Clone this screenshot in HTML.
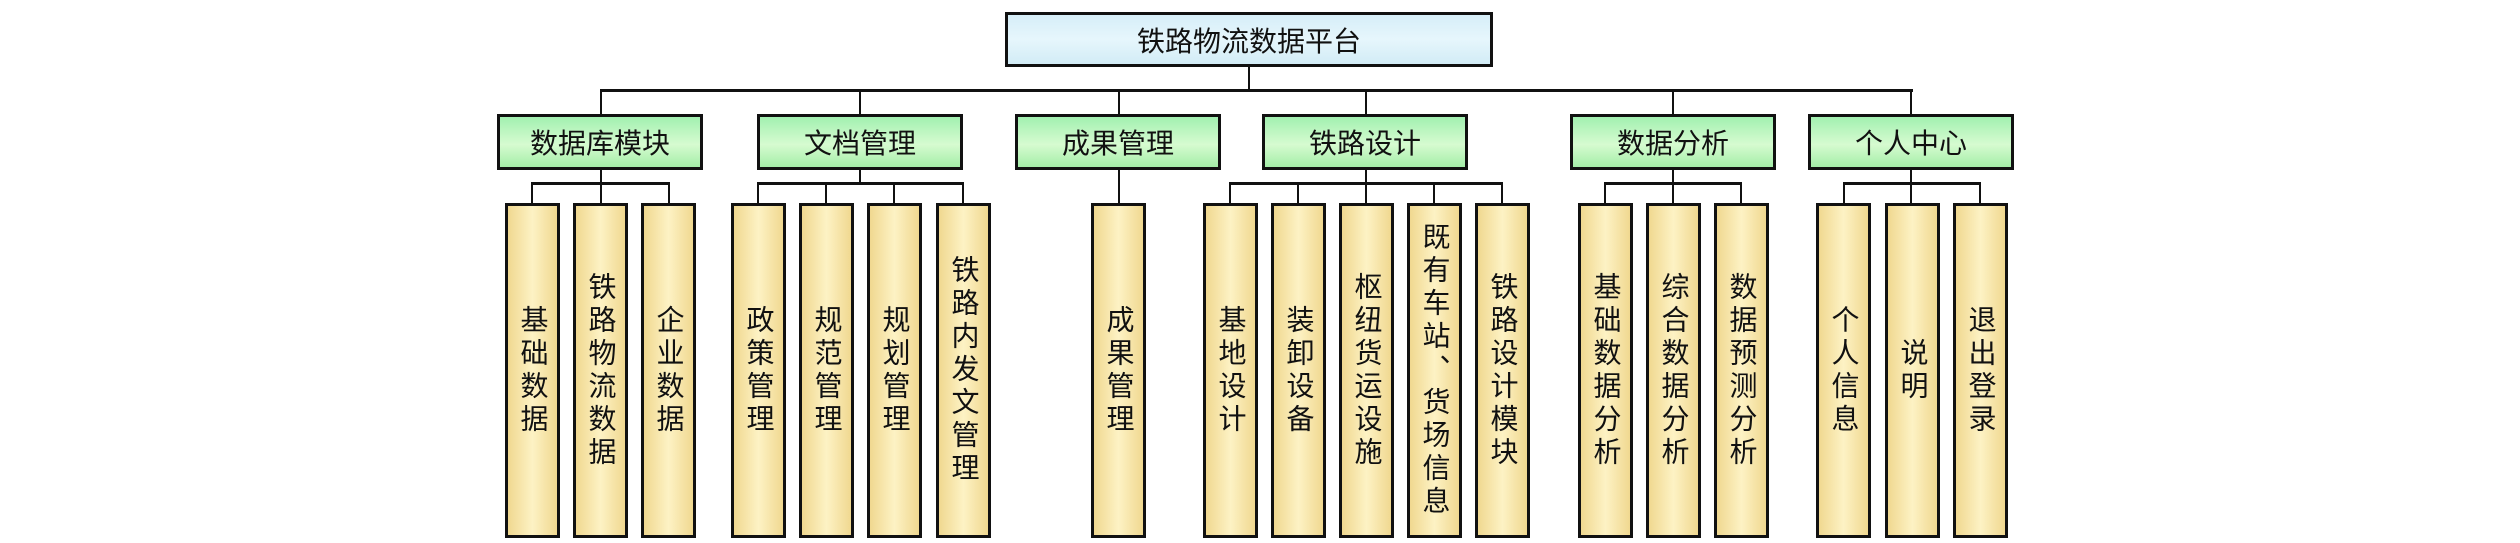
<!DOCTYPE html>
<html><head><meta charset="utf-8"><style>
body{margin:0;width:2520px;height:543px;background:#fff;position:relative;overflow:hidden;font-family:"Liberation Sans","Noto Sans CJK SC",sans-serif;}
.b{position:absolute;box-sizing:border-box;border:3px solid #111;display:flex;align-items:center;justify-content:center;color:#111;}
.top{left:1005px;top:12px;width:488px;height:55px;background:linear-gradient(#d6eef8,#e6f6fc 50%,#d2ecf6);font-size:28px;}
.m{top:114px;width:206px;height:56px;background:linear-gradient(#a2f0b0,#d6fbd0 55%,#a4eea8);font-size:28px;}
.l{top:203px;width:55px;height:335px;background:linear-gradient(90deg,#f0d890,#fdf2c4 50%,#f0d890);font-size:28px;writing-mode:vertical-rl;line-height:30px;letter-spacing:5px;border-width:3px;}
.h{position:absolute;height:3px;background:#111;}
.v{position:absolute;width:2px;background:#111;}
</style></head><body>
<div class="b top">铁路物流数据平台</div>
<div class="v" style="left:1248px;top:66px;height:25px"></div>
<div class="h" style="left:600px;top:89px;width:1313px"></div>

<div class="v" style="left:600px;top:90px;height:25px"></div>
<div class="v" style="left:859px;top:90px;height:25px"></div>
<div class="v" style="left:1118px;top:90px;height:25px"></div>
<div class="v" style="left:1365px;top:90px;height:25px"></div>
<div class="v" style="left:1672px;top:90px;height:25px"></div>
<div class="v" style="left:1910px;top:90px;height:25px"></div>

<div class="b m" style="left:497px">数据库模块</div>
<div class="b m" style="left:757px">文档管理</div>
<div class="b m" style="left:1015px">成果管理</div>
<div class="b m" style="left:1262px">铁路设计</div>
<div class="b m" style="left:1570px">数据分析</div>
<div class="b m" style="left:1808px">个人中心</div>

<!-- group drops -->
<div class="v" style="left:600px;top:169px;height:35px"></div>
<div class="h" style="left:531px;top:182px;width:139px"></div>
<div class="v" style="left:531px;top:183px;height:21px"></div>
<div class="v" style="left:668px;top:183px;height:21px"></div>

<div class="v" style="left:859px;top:169px;height:14px"></div>
<div class="h" style="left:757px;top:182px;width:207px"></div>
<div class="v" style="left:757px;top:183px;height:21px"></div>
<div class="v" style="left:825px;top:183px;height:21px"></div>
<div class="v" style="left:893px;top:183px;height:21px"></div>
<div class="v" style="left:962px;top:183px;height:21px"></div>

<div class="v" style="left:1118px;top:169px;height:35px"></div>

<div class="v" style="left:1365px;top:169px;height:35px"></div>
<div class="h" style="left:1229px;top:182px;width:274px"></div>
<div class="v" style="left:1229px;top:183px;height:21px"></div>
<div class="v" style="left:1297px;top:183px;height:21px"></div>
<div class="v" style="left:1433px;top:183px;height:21px"></div>
<div class="v" style="left:1501px;top:183px;height:21px"></div>

<div class="v" style="left:1672px;top:169px;height:35px"></div>
<div class="h" style="left:1604px;top:182px;width:138px"></div>
<div class="v" style="left:1604px;top:183px;height:21px"></div>
<div class="v" style="left:1740px;top:183px;height:21px"></div>

<div class="v" style="left:1910px;top:169px;height:35px"></div>
<div class="h" style="left:1843px;top:182px;width:138px"></div>
<div class="v" style="left:1843px;top:183px;height:21px"></div>
<div class="v" style="left:1979px;top:183px;height:21px"></div>

<div class="b l" style="left:505px">基础数据</div>
<div class="b l" style="left:573px">铁路物流数据</div>
<div class="b l" style="left:641px">企业数据</div>
<div class="b l" style="left:731px">政策管理</div>
<div class="b l" style="left:799px">规范管理</div>
<div class="b l" style="left:867px">规划管理</div>
<div class="b l" style="left:936px">铁路内发文管理</div>
<div class="b l" style="left:1091px">成果管理</div>
<div class="b l" style="left:1203px">基地设计</div>
<div class="b l" style="left:1271px">装卸设备</div>
<div class="b l" style="left:1339px">枢纽货运设施</div>
<div class="b l" style="left:1407px">既有车站、货场信息</div>
<div class="b l" style="left:1475px">铁路设计模块</div>
<div class="b l" style="left:1578px">基础数据分析</div>
<div class="b l" style="left:1646px">综合数据分析</div>
<div class="b l" style="left:1714px">数据预测分析</div>
<div class="b l" style="left:1816px">个人信息</div>
<div class="b l" style="left:1885px">说明</div>
<div class="b l" style="left:1953px">退出登录</div>
</body></html>
